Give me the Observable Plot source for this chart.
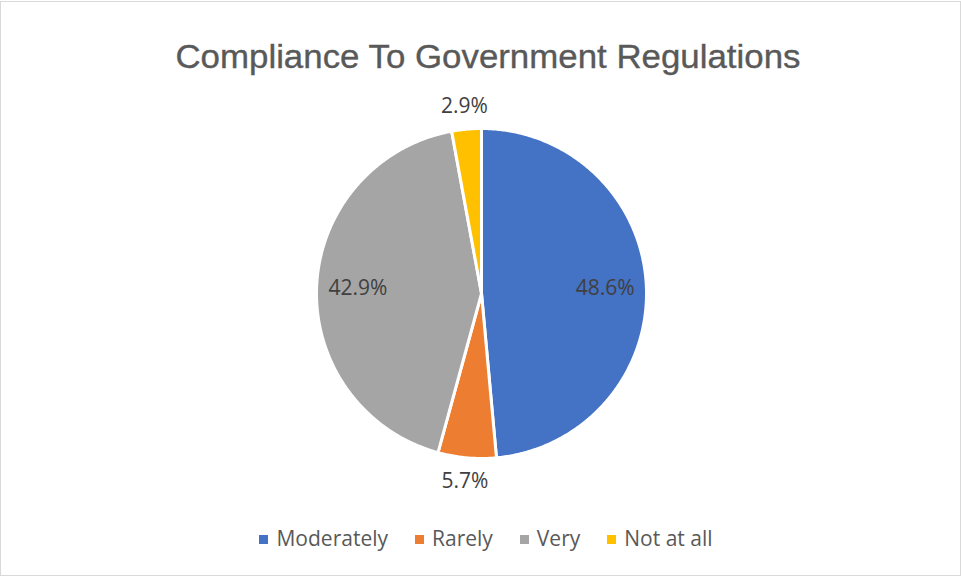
<!DOCTYPE html>
<html><head><meta charset="utf-8">
<script src="https://cdn.jsdelivr.net/npm/d3@7"></script>
<script src="https://cdn.jsdelivr.net/npm/@observablehq/plot@0.6"></script>
<style>
body{margin:0;background:#fff;}
#chart{position:relative;width:961px;height:576px;overflow:hidden;background:#fff;}
#frame{position:absolute;left:0;top:1px;width:959px;height:573px;border:1px solid #d9d9d9;}
#title{position:absolute;left:0;top:40px;width:975px;text-align:center;font-family:"Liberation Sans",sans-serif;font-size:33px;line-height:33px;color:#595959;white-space:nowrap;-webkit-text-stroke:0.35px #595959;}
#title span{display:inline-block;transform-origin:center;}
#plot{position:absolute;left:0;top:85px;}
#legend{position:absolute;left:0;top:528px;width:972px;display:flex;justify-content:center;align-items:center;gap:27px;font-family:"Open Sans",sans-serif;font-size:21px;line-height:21px;color:#595959;}
#legend .item{display:flex;align-items:center;}
#legend .sw{width:9px;height:9px;margin-right:8px;margin-top:2px;}
</style></head><body>
<div id="chart"><div id="frame"></div><div id="title"><span></span></div><div id="plot"></div><div id="legend"></div></div>
<script>
const chartTitle = "Compliance To Government Regulations";
const categories = ["Moderately", "Rarely", "Very", "Not at all"];
const percentages = [48.6, 5.7, 42.9, 2.9];
const colors = ["#4472C4", "#ED7D31", "#A5A5A5", "#FFC000"];

// layout constants (pixels inside the plot SVG)
const W = 961, H = 425, CX = 481, CY = 208, R = 165;

const data = categories.map((c, i) => ({category: c, value: percentages[i]}));
const arcs = d3.pie().sort(null).value(d => d.value)(data);

// slice polygons in unit-circle coordinates (y up), angle 0 at 12 o'clock, clockwise
const slicePts = [];
for (const a of arcs) {
  const cat = a.data.category;
  slicePts.push({category: cat, x: 0, y: 0});
  const n = Math.max(2, Math.ceil((a.endAngle - a.startAngle) / (Math.PI / 360)));
  for (let k = 0; k <= n; k++) {
    const t = a.startAngle + (a.endAngle - a.startAngle) * k / n;
    slicePts.push({category: cat, x: Math.sin(t), y: Math.cos(t)});
  }
}

// labels: inside for big slices, outside for small
const labels = arcs.map(a => {
  const m = (a.startAngle + a.endAngle) / 2;
  const r = a.data.value >= 10 ? 0.75 : 1.14;
  return {x: r * Math.sin(m), y: r * Math.cos(m), text: a.data.value.toFixed(1) + "%"};
});

const plot = Plot.plot({
  width: W, height: H, margin: 0,
  x: {domain: [-CX / R, (W - CX) / R], range: [0, W], axis: null},
  y: {domain: [-(H - CY) / R, CY / R], range: [H, 0], axis: null},
  color: {domain: categories, range: colors},
  style: {background: "transparent", fontFamily: "Open Sans"},
  marks: [
    Plot.line(slicePts, {x: "x", y: "y", z: "category", fill: "category", stroke: "white", strokeWidth: 3, strokeLinejoin: "round", curve: "linear-closed"}),
    Plot.text(labels, {x: "x", y: "y", text: "text", fontSize: 21, fill: "#404040", fontFamily: "Open Sans"})
  ]
});
document.getElementById("plot").appendChild(plot);

// title
const ts = document.querySelector("#title span");
ts.textContent = chartTitle;
const tw = ts.getBoundingClientRect().width;
ts.style.transform = `scaleX(${625 / tw})`;

// legend
const lg = document.getElementById("legend");
categories.forEach((c, i) => {
  const it = document.createElement("div");
  it.className = "item";
  const sw = document.createElement("span");
  sw.className = "sw";
  sw.style.background = colors[i];
  const tx = document.createElement("span");
  tx.textContent = c;
  it.appendChild(sw); it.appendChild(tx);
  lg.appendChild(it);
});
</script>
</body></html>
